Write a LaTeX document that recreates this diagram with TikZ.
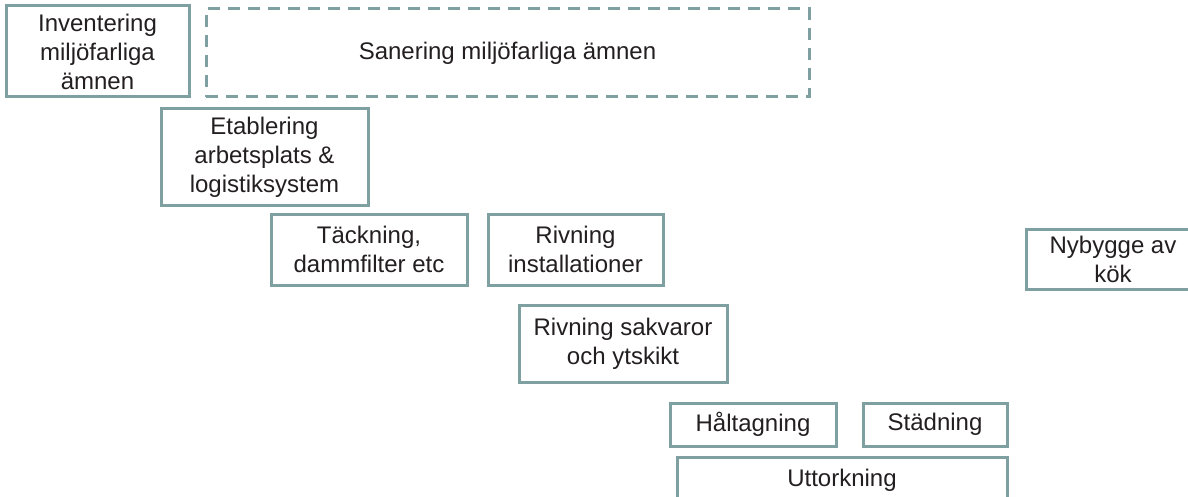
\documentclass[tikz,border=0pt]{standalone}
\usepackage{fontspec}
\setmainfont{Liberation Sans}
\usepackage{xcolor}
\usetikzlibrary{positioning}
\definecolor{ramgra}{RGB}{127,160,160}
\definecolor{textsvart}{RGB}{35,31,32}

\begin{document}
\begin{tikzpicture}[x=1pt, y=-1pt,
    moment/.style={draw=ramgra, line width=3pt, fill=white, text=textsvart, align=center,
      inner sep=0pt, outer sep=0pt, anchor=north west, font=\fontsize{24}{29}\selectfont},
    moment streckad/.style={moment, dash pattern=on 12pt off 8pt}]
  % 1. Ramen for bilden
  \useasboundingbox (0,0) rectangle (1188,497);

  % 2. Miljofarliga amnen
  \node[moment, minimum width=183pt, minimum height=91pt] (inventering) at (6,6) {Inventering\\miljöfarliga\\ämnen};
  \node[moment streckad, minimum width=603pt, minimum height=88pt] (sanering) at (206,9) {Sanering miljöfarliga ämnen};

  % 3. Etablering och tackning
  \node[moment, minimum width=207pt, minimum height=97pt] (etablering) at (161,109) {Etablering\\arbetsplats \&\\logistiksystem};
  \node[moment, minimum width=196pt, minimum height=71pt] (tackning) at (271,214) {Täckning,\\dammfilter etc};

  % 4. Rivning
  \node[moment, minimum width=175pt, minimum height=71pt] (rivinstallation) at (488,214) {Rivning\\installationer};
  \node[moment, minimum width=208pt, minimum height=77pt] (rivsakvaror) at (519,305) {Rivning sakvaror\\och ytskikt};

  % 5. Efterarbeten
  \node[moment, minimum width=166pt, minimum height=43pt] (haltagning) at (670,403) {Håltagning};
  \node[moment, minimum width=144pt, minimum height=43pt] (stadning) at (863,403) {Städning};
  \node[moment, minimum width=330pt, minimum height=46pt] (uttorkning) at (677,457) {Uttorkning};

  % 6. Nybygge
  \node[moment, minimum width=174pt, minimum height=60pt] (nybygge) at (1026,229) {Nybygge av\\kök};
\end{tikzpicture}
\end{document}
